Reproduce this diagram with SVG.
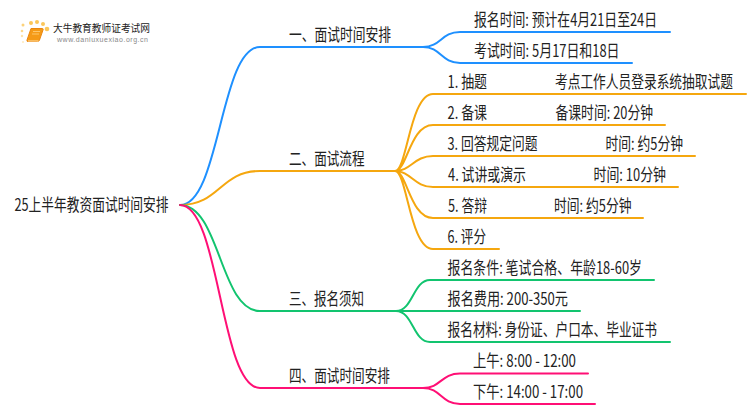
<svg xmlns="http://www.w3.org/2000/svg" width="750" height="410" viewBox="0 0 750 410">
<style>
text{font-family:"Noto Sans CJK SC","Liberation Sans",sans-serif;font-size:17px;fill:#222;}
.c{fill:none;stroke-width:2;stroke-linecap:round}
.b{stroke:#1e90ff}.o{stroke:#f5a70f}.g{stroke:#12c46f}.p{stroke:#ff0f75}
</style>
<rect width="750" height="410" fill="#fff"/>
<g id="connectors">
<path class="c b" d="M180 205C220 205 220 47 260 47H423C441 47 441 32 460 32H670M423 47C441 47 441 63 460 63H632"/>
<path class="c o" d="M180 205C220 205 220 171 260 171H395C407 171 410 94 433 94H746M395 171C407 171 410 125 433 125H665M395 171C411 171 414 156 433 156H695M395 171C411 171 414 187 433 187H678M395 171C407 171 410 218 433 218H643M395 171C407 171 410 249 433 249H499"/>
<path class="c g" d="M180 205C220 205 220 311 260 311H396C413 311 413 280 430 280H654M396 311H580M396 311C413 311 413 342 430 342H670"/>
<path class="c p" d="M180 205C220 205 220 388 260 388H423C441 388 441 373.500 460 373.500H588M423 388C441 388 441 404 460 404H595"/>
</g>
<g id="logo">
<g fill="#fbc75a"><circle cx="23" cy="25" r="1.500" opacity=".8"/><circle cx="31" cy="23" r="2"/><circle cx="37" cy="22" r="2"/><circle cx="43" cy="24" r="2"/><circle cx="47" cy="29" r="2.300"/><circle cx="22" cy="31" r="1.300" opacity=".7"/><circle cx="22" cy="36" r="1.200" opacity=".5"/><circle cx="23" cy="42" r="1" opacity=".4"/></g>
<path d="M31 28.500H42.500Q43.500 28.500 43 30L39.500 40Q39 41.500 37.500 41.500H28Q26.500 41.500 27 40Z" fill="#f59a16" stroke="#ea860f"/>
<path d="M28 41H38.500" stroke="#ffe0a8" fill="none"/>
<path d="M33 31.500H40M32 34H39" stroke="#ffd27f" fill="none" stroke-width=".8"/>
<text x="53" y="32" style="font-size:10.500px" textLength="97" lengthAdjust="spacingAndGlyphs">大牛教育教师证考试网</text>
<text x="57" y="42" style="font-size:7px;fill:#888;font-family:'Liberation Sans',sans-serif" textLength="91" lengthAdjust="spacing">www.daniuxuexiao.org.cn</text>
</g>
<g id="root"><text x="14.500" y="211" textLength="154" lengthAdjust="spacingAndGlyphs">25上半年教资面试时间安排</text></g>
<g id="n1"><text x="289" y="41" textLength="102" lengthAdjust="spacingAndGlyphs">一、面试时间安排</text></g>
<g id="n1a"><text x="474" y="26" textLength="183" lengthAdjust="spacingAndGlyphs">报名时间: 预计在4月21日至24日</text></g>
<g id="n1b"><text x="474" y="57" textLength="145.500" lengthAdjust="spacingAndGlyphs">考试时间: 5月17日和18日</text></g>
<g id="n2"><text x="289" y="165" textLength="75.500" lengthAdjust="spacingAndGlyphs">二、面试流程</text></g>
<g id="n2a"><text x="447.500" y="88" textLength="39.500" lengthAdjust="spacingAndGlyphs">1. 抽题</text><text transform="translate(555 88) scale(.748 1)">考点工作人员登录系统抽取试题</text></g>
<g id="n2b"><text x="447.500" y="119" textLength="39.500" lengthAdjust="spacingAndGlyphs">2. 备课</text><text x="555.500" y="119" textLength="97.500" lengthAdjust="spacingAndGlyphs">备课时间: 20分钟</text></g>
<g id="n2c"><text x="447.500" y="150" textLength="90" lengthAdjust="spacingAndGlyphs">3. 回答规定问题</text><text x="605.500" y="150" textLength="77.500" lengthAdjust="spacingAndGlyphs">时间: 约5分钟</text></g>
<g id="n2d"><text x="448" y="181" textLength="78" lengthAdjust="spacingAndGlyphs">4. 试讲或演示</text><text x="593.500" y="181" textLength="72.500" lengthAdjust="spacingAndGlyphs">时间: 10分钟</text></g>
<g id="n2e"><text x="448" y="212" textLength="39" lengthAdjust="spacingAndGlyphs">5. 答辩</text><text x="554" y="212" textLength="77.500" lengthAdjust="spacingAndGlyphs">时间: 约5分钟</text></g>
<g id="n2f"><text x="447.500" y="243" textLength="38.500" lengthAdjust="spacingAndGlyphs">6. 评分</text></g>
<g id="n3"><text x="289" y="305" textLength="75" lengthAdjust="spacingAndGlyphs">三、报名须知</text></g>
<g id="n3a"><text x="447.500" y="274" textLength="194.500" lengthAdjust="spacingAndGlyphs">报名条件: 笔试合格、年龄18-60岁</text></g>
<g id="n3b"><text x="447.500" y="305" textLength="120.500" lengthAdjust="spacingAndGlyphs">报名费用: 200-350元</text></g>
<g id="n3c"><text x="447.500" y="336" textLength="209.500" lengthAdjust="spacingAndGlyphs">报名材料: 身份证、户口本、毕业证书</text></g>
<g id="n4"><text x="289" y="382" textLength="101" lengthAdjust="spacingAndGlyphs">四、面试时间安排</text></g>
<g id="n4a"><text x="473" y="367" textLength="103" lengthAdjust="spacingAndGlyphs">上午: 8:00 - 12:00</text></g>
<g id="n4b"><text x="473" y="398" textLength="110" lengthAdjust="spacingAndGlyphs">下午: 14:00 - 17:00</text></g>
</svg>
